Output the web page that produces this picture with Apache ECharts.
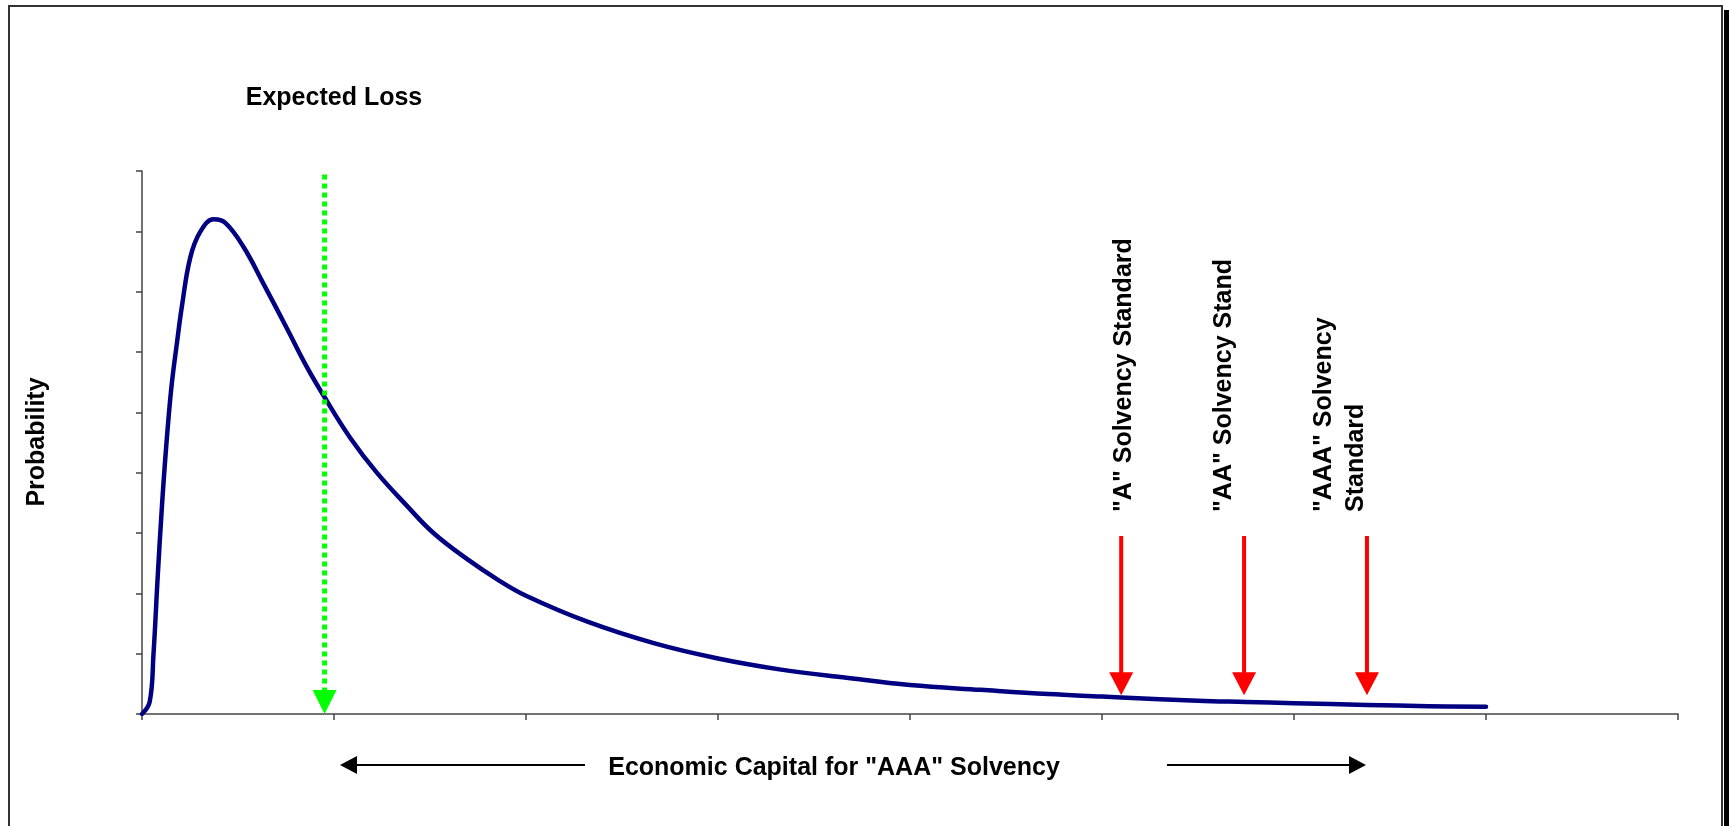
<!DOCTYPE html>
<html>
<head>
<meta charset="utf-8">
<script src="https://cdn.jsdelivr.net/npm/echarts@6/dist/echarts.min.js"></script>
<style>
  html, body { margin: 0; padding: 0; background: #ffffff; }
  #chart { width: 1729px; height: 826px; }
</style>
</head>
<body>
<div id="chart"></div>
<script>
// Loss distribution: loss level (x) and probability density (y, arbitrary units)
const lossLevels = [0, 0.04, 0.06, 0.081, 0.104, 0.126, 0.153, 0.182, 0.208, 0.251, 0.303, 0.373, 0.434,
  0.529, 0.633, 0.755, 0.859, 0.951, 1.084, 1.223, 1.38, 1.518, 1.692, 1.856, 2.0, 2.32, 2.67, 3.0,
  3.32, 3.67, 4.0, 4.37, 4.72, 5.0, 5.1, 5.5, 5.75, 6.0, 6.38, 6.7, 7.0];
const lossDensity = [0, 0.2, 1.0, 2.23, 3.45, 4.43, 5.41, 6.15, 6.76, 7.56, 7.99, 8.2, 8.14,
  7.74, 7.13, 6.39, 5.75, 5.25, 4.58, 4.0, 3.45, 3.0, 2.57, 2.22, 1.96, 1.53, 1.17, 0.92,
  0.74, 0.6, 0.48, 0.4, 0.33, 0.29, 0.275, 0.22, 0.2, 0.18, 0.15, 0.13, 0.12];

// Expected loss marker
const expectedLoss = 0.951;
const expectedLossTop = 8.94;
const expectedLossLabel = 'Expected Loss';

// Solvency standard markers
const solvencyLevels = [5.1, 5.74, 6.38];
const solvencyArrowTop = 2.95;
const solvencyArrowTip = 0.31;
const solvencyLabels = ['"A" Solvency Standard', '"AA" Solvency Stand', '"AAA" Solvency\nStandard'];

// Axis titles
const yTitle = 'Probability';
const xTitle = 'Economic Capital for "AAA" Solvency';

const FONT = 'bold 25px "Liberation Sans", Arial, sans-serif';
const AXIS_COLOR = '#444444';

function textEl(x, y, text, rotation, align) {
  return {
    type: 'text', x: x, y: y, rotation: rotation || 0, silent: true, z: 20,
    style: {
      text: text, font: FONT, fill: '#000000',
      align: align || 'center', verticalAlign: 'middle',
      textAlign: align || 'center', textVerticalAlign: 'middle',
      lineHeight: 32
    }
  };
}

const chart = echarts.init(document.getElementById('chart'), null, { renderer: 'canvas' });

chart.setOption({
  animation: false,
  backgroundColor: '#ffffff',
  grid: { left: 142, top: 171, width: 1536, height: 543, containLabel: false },
  xAxis: {
    type: 'value', min: 0, max: 8, interval: 1,
    axisLine: { show: true, onZero: false, lineStyle: { color: AXIS_COLOR, width: 1.5 } },
    axisTick: { show: true, inside: false, length: 6, lineStyle: { color: AXIS_COLOR, width: 1.5 } },
    axisLabel: { show: false },
    splitLine: { show: false }
  },
  yAxis: {
    type: 'value', min: 0, max: 9, interval: 1,
    axisLine: { show: true, onZero: false, lineStyle: { color: AXIS_COLOR, width: 1.5 } },
    axisTick: { show: true, inside: false, length: 6, lineStyle: { color: AXIS_COLOR, width: 1.5 } },
    axisLabel: { show: false },
    splitLine: { show: false }
  },
  series: [
    {
      name: 'Loss distribution',
      type: 'line',
      data: lossLevels.map((x, i) => [x, lossDensity[i]]),
      showSymbol: false,
      smooth: 0.4,
      lineStyle: { color: '#000080', width: 4.5, cap: 'round', join: 'round' },
      z: 2
    },
    {
      name: 'Expected loss',
      type: 'custom',
      z: 5,
      data: [[expectedLoss, expectedLossTop, 0]],
      renderItem: function (params, api) {
        const top = api.coord([api.value(0), api.value(1)]);
        const tip = api.coord([api.value(0), api.value(2)]);
        const head = 24, hw = 12;
        return {
          type: 'group',
          children: [
            { type: 'line', shape: { x1: top[0], y1: top[1], x2: tip[0], y2: tip[1] - head },
              style: { stroke: '#00ff00', lineWidth: 5, lineDash: [5, 4], lineCap: 'butt' } },
            { type: 'polygon', shape: { points: [[tip[0] - hw, tip[1] - head], [tip[0] + hw, tip[1] - head], [tip[0], tip[1]]] },
              style: { fill: '#00ff00' } }
          ]
        };
      }
    },
    {
      name: 'Solvency standards',
      type: 'custom',
      z: 5,
      data: solvencyLevels.map(x => [x, solvencyArrowTop, solvencyArrowTip]),
      renderItem: function (params, api) {
        const top = api.coord([api.value(0), api.value(1)]);
        const tip = api.coord([api.value(0), api.value(2)]);
        const head = 23, hw = 12;
        return {
          type: 'group',
          children: [
            { type: 'line', shape: { x1: top[0], y1: top[1], x2: tip[0], y2: tip[1] - head + 1 },
              style: { stroke: '#ff0000', lineWidth: 4 } },
            { type: 'polygon', shape: { points: [[tip[0] - hw, tip[1] - head], [tip[0] + hw, tip[1] - head], [tip[0], tip[1]]] },
              style: { fill: '#ff0000' } }
          ]
        };
      }
    }
  ],
  graphic: [
    // chart frame and its shadow
    { type: 'rect', silent: true, z: 1, shape: { x: 9, y: 6, width: 1713, height: 900 },
      style: { fill: 'none', stroke: '#333333', lineWidth: 2 } },
    { type: 'rect', silent: true, z: 1, shape: { x: 1724, y: 10, width: 10, height: 900 },
      style: { fill: '#000000' } },

    // titles
    textEl(334, 98, expectedLossLabel, 0, 'center'),
    textEl(37.5, 442, yTitle, Math.PI / 2, 'center'),
    textEl(834, 768, xTitle, 0, 'center'),

    // solvency labels, read bottom to top
    textEl(1124, 512, solvencyLabels[0], Math.PI / 2, 'left'),
    textEl(1224, 512, solvencyLabels[1], Math.PI / 2, 'left'),
    textEl(1340, 512, solvencyLabels[2], Math.PI / 2, 'left'),

    // capital range arrows beside the x-axis title
    { type: 'line', silent: true, z: 20, shape: { x1: 356, y1: 765, x2: 585, y2: 765 },
      style: { stroke: '#000000', lineWidth: 2 } },
    { type: 'polygon', silent: true, z: 20, shape: { points: [[340, 765], [357, 756], [357, 774]] },
      style: { fill: '#000000' } },
    { type: 'line', silent: true, z: 20, shape: { x1: 1167, y1: 765, x2: 1351, y2: 765 },
      style: { stroke: '#000000', lineWidth: 2 } },
    { type: 'polygon', silent: true, z: 20, shape: { points: [[1366, 765], [1349, 756], [1349, 774]] },
      style: { fill: '#000000' } }
  ]
});
</script>
</body>
</html>
